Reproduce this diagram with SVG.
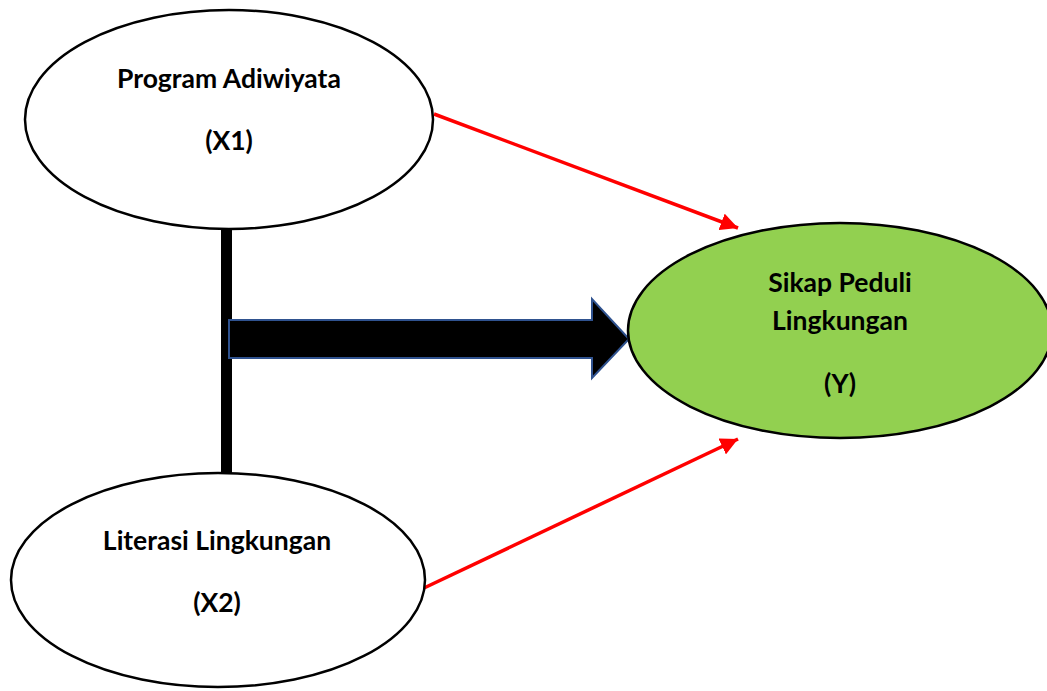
<svg xmlns="http://www.w3.org/2000/svg" width="1047" height="691" viewBox="0 0 1047 691">
<style>
.node{stroke:#000;stroke-width:2.5}
.lbl{font-family:"Lato","Liberation Sans",sans-serif;font-weight:bold;font-size:26.5px;fill:#000;text-anchor:middle}
.red{stroke:#ff0000;stroke-width:3.5;fill:none}
</style>
<defs>
<marker id="ah" viewBox="0 0 10 10" refX="10" refY="5" markerWidth="5" markerHeight="5" orient="auto" markerUnits="strokeWidth">
<path d="M0,0 L10,5 L0,10 Z" fill="#ff0000"/>
</marker>
</defs>
<rect width="1047" height="691" fill="#fff"/>
<g id="connectors">
<rect x="221" y="229" width="11" height="245" fill="#000"/>
<path d="M229,320 L592,320 L592,299 L629,339 L592,378 L592,358 L229,358 Z" fill="#000" stroke="#2F528F" stroke-width="2"/>
<line class="red" x1="434" y1="114" x2="738" y2="228" marker-end="url(#ah)"/>
<line class="red" x1="424" y1="588" x2="738" y2="439" marker-end="url(#ah)"/>
</g>
<g id="x1">
<ellipse class="node" cx="229" cy="119.5" rx="204" ry="109.5" fill="#fff"/>
<text class="lbl" x="229" y="88">Program Adiwiyata</text>
<text class="lbl" x="229" y="150">(X1)</text>
</g>
<g id="x2">
<ellipse class="node" cx="218" cy="580" rx="207" ry="107" fill="#fff"/>
<text class="lbl" x="217" y="550">Literasi Lingkungan</text>
<text class="lbl" x="217" y="612">(X2)</text>
</g>
<g id="y">
<ellipse class="node" cx="840" cy="330.5" rx="212" ry="107.5" fill="#92D050"/>
<text class="lbl" x="840" y="292">Sikap Peduli</text>
<text class="lbl" x="840" y="330">Lingkungan</text>
<text class="lbl" x="840" y="393">(Y)</text>
</g>
</svg>
